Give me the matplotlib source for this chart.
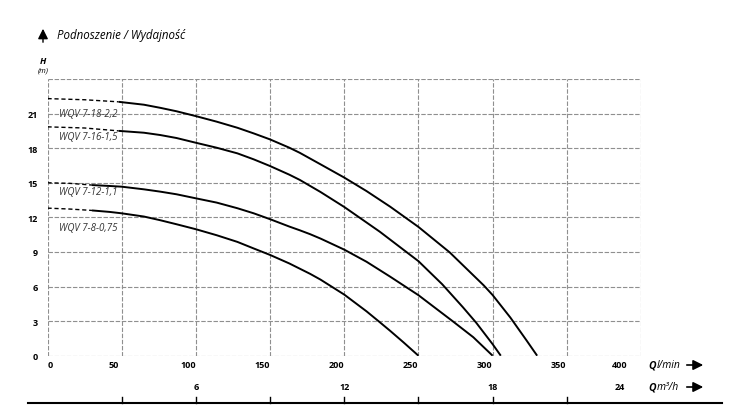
import matplotlib.pyplot as plt
import matplotlib.transforms as mtransforms
from matplotlib.patches import FancyArrowPatch

# curve data: Q in l/min, H in m
names = ['WQV 7-18-2,2', 'WQV 7-16-1,5', 'WQV 7-12-1,1', 'WQV 7-8-0,75']

# dashed (not recommended) start of each curve
dash_q = [[0, 25, 48], [0, 25, 48], [0, 15, 30], [0, 15, 30]]
dash_h = [[22.3, 22.2, 22.02], [19.85, 19.75, 19.5], [15.0, 14.95, 14.8], [12.8, 12.72, 12.6]]

solid_q = [
    [48, 65, 76, 87, 100, 114, 128, 139, 150, 163, 170, 184, 200, 215, 231, 250, 271,
     294, 300, 312, 323, 330],
    [48, 65, 76, 87, 100, 114, 128, 139, 150, 163, 170, 184, 200, 224, 250, 266, 280,
     289, 300, 305.5],
    [30, 42, 50, 65, 76, 87, 100, 114, 128, 139, 150, 163, 170, 177, 184, 200, 215,
     231, 250, 273.5, 287, 300],
    [30, 42, 50, 65, 76, 87, 100, 114, 128, 139, 150, 163, 177, 184, 200, 215, 224,
     231, 240, 250],
]
solid_h = [
    [22.02, 21.77, 21.5, 21.2, 20.78, 20.3, 19.77, 19.28, 18.76, 18.04, 17.6, 16.6,
     15.45, 14.28, 12.92, 11.17, 8.97, 6.1, 5.26, 3.3, 1.3, 0],
    [19.5, 19.34, 19.14, 18.88, 18.47, 18.04, 17.55, 17.03, 16.45, 15.7, 15.25, 14.2,
     12.9, 10.75, 8.2, 6.2, 4.2, 2.85, 1.0, 0],
    [14.8, 14.72, 14.66, 14.43, 14.23, 14.0, 13.65, 13.28, 12.79, 12.35, 11.84, 11.2,
     10.88, 10.54, 10.16, 9.2, 8.15, 6.85, 5.25, 2.95, 1.6, 0],
    [12.6, 12.47, 12.35, 12.07, 11.75, 11.4, 10.97, 10.45, 9.87, 9.3, 8.74, 8.0,
     7.1, 6.6, 5.3, 3.85, 2.9, 2.15, 1.15, 0],
]
label_h = [21.0, 19.0, 14.2, 11.1]

q_ticks = [0, 50, 100, 150, 200, 250, 300, 350, 400]
h_ticks = [0, 3, 6, 9, 12, 15, 18, 21, 24]
m3h_pos = [100, 200, 300, 400]
m3h_labels = ['6', '12', '18', '24']

plt.rcParams['font.family'] = ['Open Sans', 'DejaVu Sans']

W, H = 735, 414
fig = plt.figure(figsize=(W / 100, H / 100), dpi=100)
ax = fig.add_axes([47.5 / W, 1 - 356.7 / H, 593.5 / W, 276.7 / H])

# grid and frame
grid_kw = dict(color='#8f8f8f', lw=0.8, ls=(0, (4, 1.5)), zorder=1)
for q in q_ticks:
    ax.axvline(q, **grid_kw)
for h in h_ticks:
    ax.axhline(h, **grid_kw)
for s in ax.spines.values():
    s.set_visible(False)

# curves
for i in range(len(names)):
    ax.plot(dash_q[i], dash_h[i], color='black', lw=1.0, ls=(0, (3, 2)), zorder=3)
    ax.plot(solid_q[i], solid_h[i], color='black', lw=1.4, zorder=3,
            solid_joinstyle='round', solid_capstyle='butt')
    ax.text(8, label_h[i], names[i], fontsize=7, style='italic', color='#333333',
            va='center', ha='left')

ax.set_xlim(0, 400)
ax.set_ylim(0, 24)

ax.set_xticks([])
ax.set_yticks(h_ticks[:-1])
ax.set_yticklabels([str(h) for h in h_ticks[:-1]], fontsize=6.5, fontweight='bold')
ax.tick_params(axis='y', length=0, pad=7)

# x labels l/min, slightly shifted left like in the original
blend = mtransforms.blended_transform_factory(ax.transData, fig.transFigure)
for q in q_ticks:
    dx = 3 if q == 0 else (-21 if q == 400 else -8)
    tr = blend + mtransforms.ScaledTranslation(dx / 100, 0, fig.dpi_scale_trans)
    ax.text(q, 1 - 366 / H, str(q), transform=tr, fontsize=6.5, fontweight='bold',
            ha='center', va='center')
for q, lab in zip(m3h_pos, m3h_labels):
    dx = -21 if q == 400 else 0
    tr = blend + mtransforms.ScaledTranslation(dx / 100, 0, fig.dpi_scale_trans)
    ax.text(q, 1 - 388 / H, lab, transform=tr, fontsize=6.5, fontweight='bold',
            ha='center', va='center')

# bottom line with ticks
fig.add_artist(plt.Line2D([28 / W, 722 / W], [1 - 404 / H] * 2, color='black', lw=1.5,
                          transform=fig.transFigure))
for q in q_ticks[1:-1]:
    ax.plot([q, q], [1 - 404 / H, 1 - 398 / H], color='black', lw=1.0,
            transform=blend, clip_on=False)

# unit labels with arrows
for y, unit in [(366, 'l/min'), (388, 'm³/h')]:
    fig.text(648 / W, 1 - y / H, 'Q', fontsize=7.5, fontweight='bold', style='italic',
             va='center', ha='left')
    fig.text(657 / W, 1 - y / H, unit, fontsize=7.5, style='italic', va='center', ha='left')
    fig.add_artist(FancyArrowPatch(
        (684 / W, 1 - y / H), (706 / W, 1 - y / H), transform=fig.transFigure,
        arrowstyle='-|>,head_length=4,head_width=2', color='black', lw=1.2,
        mutation_scale=1.5))

# title with up arrow
fig.add_artist(FancyArrowPatch(
    (43 / W, 1 - 46 / H), (43 / W, 1 - 27 / H), transform=fig.transFigure,
    arrowstyle='-|>,head_length=4,head_width=2', color='black', lw=1.0,
    mutation_scale=1.5))
fig.text(57 / W, 1 - 36 / H, 'Podnoszenie / Wydajność', fontsize=8.3, style='italic',
         va='center', ha='left')
fig.text(43 / W, 1 - 62 / H, 'H', fontsize=6.5, fontweight='bold', style='italic',
         va='center', ha='center')
fig.text(43 / W, 1 - 71 / H, '(m)', fontsize=5.5, style='italic', va='center', ha='center')

fig.savefig('out.png', dpi=100)
